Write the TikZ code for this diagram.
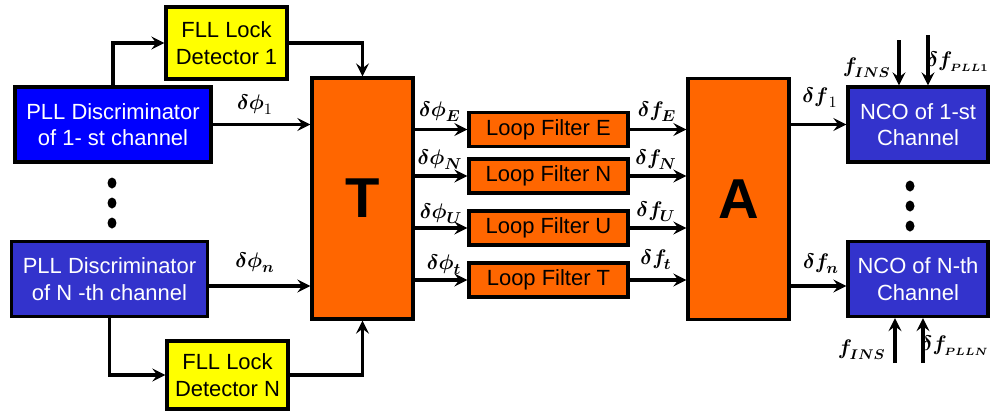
\documentclass[tikz,border=0pt]{standalone}
\usepackage{amsmath,amssymb}
\usepackage{fontspec}
\setmainfont{Liberation Sans}
\usepackage{xcolor}
\usepackage{tikz}
\usetikzlibrary{shapes,arrows,positioning}

\definecolor{pllblue}{RGB}{0,0,255}
\definecolor{ncoblue}{RGB}{51,51,204}
\definecolor{boxorange}{RGB}{255,102,0}
\definecolor{fllyellow}{RGB}{255,255,0}

\begin{document}
\begin{tikzpicture}[x=0.02cm, y=-0.02cm]
\tikzstyle{pllblock} = [rectangle, draw, line width=1.8pt, text=white, minimum width=3.92cm, minimum height=1.5cm, align=center, inner sep=1pt, font=\fontsize{12.5}{15}\selectfont]
\tikzstyle{ncoblock} = [pllblock, fill=ncoblue, minimum width=2.8cm]
\tikzstyle{fllblock} = [rectangle, draw, line width=1.8pt, fill=fllyellow, minimum width=2.42cm, minimum height=1.44cm, align=center, inner sep=1pt, font=\fontsize{12.5}{15}\selectfont]
\tikzstyle{lfblock} = [rectangle, draw, line width=1.8pt, fill=boxorange, minimum width=3.18cm, minimum height=0.68cm, inner sep=1pt, font=\fontsize{12.5}{15}\selectfont]
\tikzstyle{bigblock} = [rectangle, draw, line width=1.8pt, fill=boxorange, minimum width=2.02cm, minimum height=4.82cm, font=\fontsize{32}{36}\selectfont\bfseries]
\tikzstyle{lbl} = [inner sep=0pt, font=\fontsize{13}{15}\selectfont]
\tikzstyle{inlbl} = [lbl, font=\fontsize{12}{14}\selectfont]
\tikzstyle{plllbl} = [lbl, font=\fontsize{11.5}{14}\selectfont]
\tikzstyle{dot} = [ellipse, fill=black, minimum width=0.18cm, minimum height=0.22cm, inner sep=0pt]
\tikzstyle{arrow} = [line width=2.2pt,->,>=stealth]

\useasboundingbox (0,0) rectangle (992,410);

% input side
\node[pllblock, fill=pllblue] (pll1) at (113,124.5) {PLL Discriminator\\of 1- st channel};
\node[pllblock, fill=ncoblue] (pllN) at (109.5,279) {PLL Discriminator\\of N -th channel};
\node[fllblock] (fll1) at (226.5,43) {FLL Lock\\Detector 1};
\node[fllblock, minimum height=1.36cm] (fllN) at (227.5,375) {FLL Lock\\Detector N};

% transform and back
\node[bigblock] (T) at (362.5,198.5) {T};
\node[bigblock] (A) at (738.5,199) {A};

\node[lfblock] (lfE) at (548.5,129.5) {Loop Filter E};
\node[lfblock] (lfN) at (548.5,176) {Loop Filter N};
\node[lfblock] (lfU) at (548.5,228) {Loop Filter U};
\node[lfblock] (lfT) at (548.5,280) {Loop Filter T};

% output side
\node[ncoblock] (nco1) at (918,124.5) {NCO of 1-st\\Channel};
\node[ncoblock] (ncoN) at (918,279) {NCO of N-th\\Channel};

\foreach \y in {183,203,223} {
  \node[dot] (dotL\y) at (112,\y) {};
  \node[dot] (dotR\y) at (910,\y+3) {};
}

% labels
\node[lbl] (dphi1) at (255,105) {$\boldsymbol{\delta\phi}_{1}$};
\node[lbl] (dphin) at (255,263) {$\boldsymbol{\delta\phi}_{\boldsymbol{n}}$};
\node[lbl] (dphiE) at (440,112) {$\boldsymbol{\delta\phi}_{\boldsymbol{E}}$};
\node[lbl] (dphiN) at (440,160) {$\boldsymbol{\delta\phi}_{\boldsymbol{N}}$};
\node[lbl] (dphiU) at (441,214) {$\boldsymbol{\delta\phi}_{\boldsymbol{U}}$};
\node[lbl] (dphiT) at (444,265) {$\boldsymbol{\delta\phi}_{\boldsymbol{t}}$};
\node[lbl] (dfE) at (657,112) {$\boldsymbol{\delta f}_{\!\boldsymbol{E}}$};
\node[lbl] (dfN) at (656,160) {$\boldsymbol{\delta f}_{\!\boldsymbol{N}}$};
\node[lbl] (dfU) at (656,212) {$\boldsymbol{\delta f}_{\!\boldsymbol{U}}$};
\node[lbl] (dfT) at (656,260) {$\boldsymbol{\delta f}_{\!\boldsymbol{t}}$};
\node[lbl] (df1) at (820,98) {$\boldsymbol{\delta f}_{1}$};
\node[lbl] (dfn) at (821,264) {$\boldsymbol{\delta f}_{\!\boldsymbol{n}}$};
\node[inlbl, anchor=east] (fins1) at (891,68) {$\boldsymbol{f}_{\!\boldsymbol{INS}}$};
\node[plllbl, anchor=east] (dfpll1) at (989,62) {$\boldsymbol{\delta f}_{\!\scriptscriptstyle\boldsymbol{PLL1}}$};
\node[inlbl, anchor=east] (finsN) at (886,350) {$\boldsymbol{f}_{\!\boldsymbol{INS}}$};
\node[plllbl, anchor=east] (dfpllN) at (989,346) {$\boldsymbol{\delta f}_{\!\scriptscriptstyle\boldsymbol{PLLN}}$};

\coordinate (ins1) at (899,40);
\coordinate (pllin1) at (928,35);
\coordinate (insN) at (895,363);
\coordinate (pllinN) at (923,363);

% connectors
\draw[arrow] (pll1.north) |- (fll1.west);
\draw[arrow] (fll1.east) -| (T.north);
\draw[arrow] (pllN.south) |- (fllN.west);
\draw[arrow] (fllN.east) -| (T.south);
\draw[arrow] (pll1.east) -- (pll1.east -| T.west);
\draw[arrow] ([yshift=-0.14cm]pllN.east) -- ([yshift=-0.14cm]pllN.east -| T.west);

\foreach \f in {E,N,U,T} {
  \draw[arrow] (T.east |- lf\f) -- (lf\f);
  \draw[arrow] (lf\f) -- (lf\f -| A.west);
}

\draw[arrow] (A.east |- nco1.west) -- (nco1.west);
\draw[arrow] ([yshift=-0.14cm]A.east |- ncoN.west) -- ([yshift=-0.14cm]ncoN.west);
\draw[arrow] (ins1) -- (ins1 |- nco1.north);
\draw[arrow] (pllin1) -- (pllin1 |- nco1.north);
\draw[arrow] (insN) -- (insN |- ncoN.south);
\draw[arrow] (pllinN) -- (pllinN |- ncoN.south);
\end{tikzpicture}
\end{document}
